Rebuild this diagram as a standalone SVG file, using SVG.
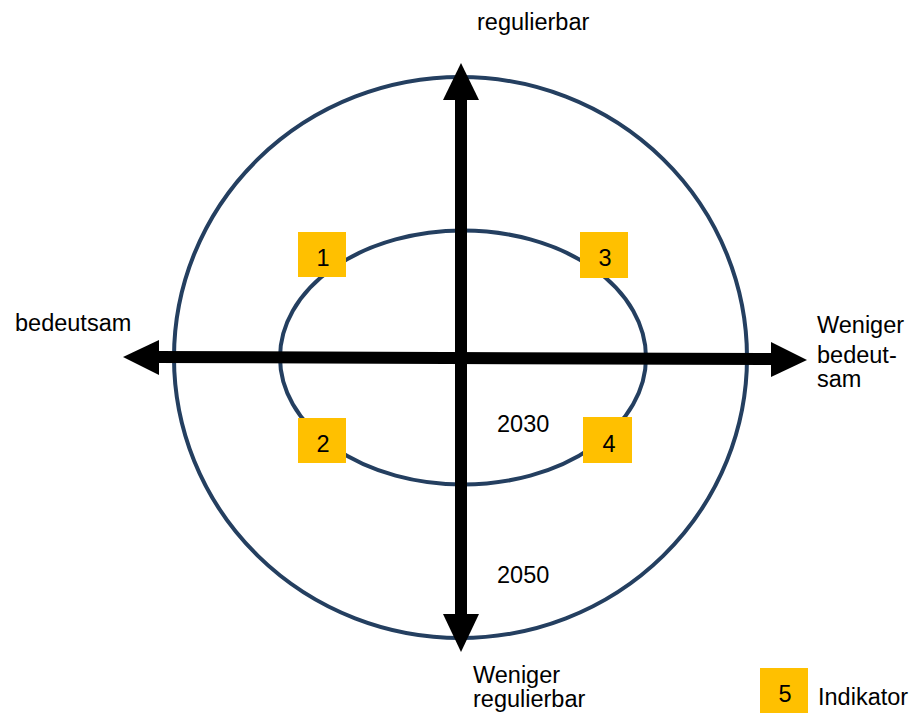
<svg xmlns="http://www.w3.org/2000/svg" width="922" height="718" viewBox="0 0 922 718">
<style>
.ring{fill:none;stroke:#243F60;stroke-width:4}
.ax{stroke:#000;stroke-width:12;fill:none}
.head{fill:#000}
.box{fill:#FFC000}
text{font-family:"Liberation Sans",Arial,sans-serif;font-size:23.5px;fill:#000}
.num{text-anchor:middle}
</style>
<rect width="922" height="718" fill="#fff"/>
<g id="rings">
<ellipse class="ring" cx="460.5" cy="357.5" rx="286.5" ry="280.5"/>
<ellipse class="ring" cx="463" cy="357.5" rx="183" ry="127"/>
</g>
<g id="connectors">
<line class="ax" x1="461" y1="95" x2="461" y2="618"/>
<polygon class="head" points="461,63 443,100 479,100"/>
<polygon class="head" points="461,652 443,614 479,614"/>
<line class="ax" x1="155" y1="357" x2="775" y2="359"/>
<polygon class="head" points="123,357 159,340 159,375"/>
<polygon class="head" points="807,360 771,342 771,377"/>
</g>
<g id="box1"><rect class="box" x="298" y="232" width="48" height="45"/><text class="num" x="323" y="266">1</text></g>
<g id="box3"><rect class="box" x="580" y="232" width="48" height="46"/><text class="num" x="605" y="266">3</text></g>
<g id="box2"><rect class="box" x="298" y="418" width="48" height="45"/><text class="num" x="323" y="452">2</text></g>
<g id="box4"><rect class="box" x="583" y="417" width="49" height="46"/><text class="num" x="609" y="452">4</text></g>
<g id="legend"><rect class="box" x="760" y="668" width="48" height="45"/><text class="num" x="785" y="702">5</text><text x="818" y="705">Indikator</text></g>
<g id="labels">
<text x="477" y="30">regulierbar</text>
<text x="15" y="331">bedeutsam</text>
<text x="817" y="333">Weniger</text>
<text x="817" y="363">bedeut-</text>
<text x="817" y="387">sam</text>
<text x="497" y="432">2030</text>
<text x="497" y="583">2050</text>
<text x="473" y="683">Weniger</text>
<text x="473" y="707">regulierbar</text>
</g>
</svg>
